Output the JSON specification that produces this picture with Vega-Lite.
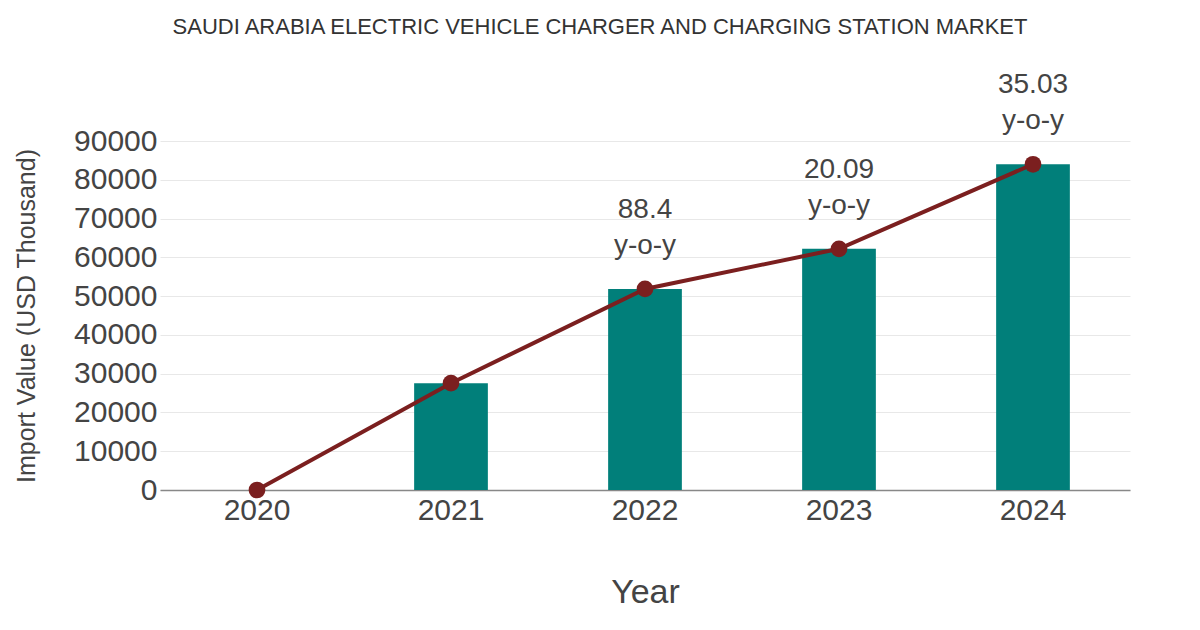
{
  "$schema": "https://vega.github.io/schema/vega-lite/v6.json",
  "width": 970,
  "height": 349,
  "autosize": "none",
  "padding": {"left": 160, "top": 141, "right": 70, "bottom": 140},
  "background": "white",
  "title": {
    "text": "SAUDI ARABIA ELECTRIC VEHICLE CHARGER AND CHARGING STATION MARKET",
    "font": "Liberation Sans",
    "fontSize": 22,
    "fontWeight": "normal",
    "color": "#333333",
    "dx": -45,
    "offset": 32
  },
  "config": {
    "view": {"stroke": null},
    "font": "Liberation Sans"
  },
  "data": {
    "values": [
      {"year": "2020", "value": 0, "label": ""},
      {"year": "2021", "value": 27550, "label": ""},
      {"year": "2022", "value": 51850, "label": "88.4\ny-o-y"},
      {"year": "2023", "value": 62200, "label": "20.09\ny-o-y"},
      {"year": "2024", "value": 84000, "label": "35.03\ny-o-y"}
    ]
  },
  "encoding": {
    "x": {
      "field": "year",
      "type": "ordinal",
      "title": "Year",
      "scale": {"paddingInner": 0.62, "paddingOuter": 0.31},
      "axis": {
        "labelAngle": 0,
        "labelFontSize": 30,
        "labelColor": "#444444",
        "labelPadding": 5,
        "ticks": false,
        "domainColor": "#888888",
        "domainWidth": 1.5,
        "titleFontSize": 34,
        "titleFontWeight": "normal",
        "titleColor": "#444444",
        "titlePadding": 50
      }
    },
    "y": {
      "field": "value",
      "type": "quantitative",
      "title": "Import Value (USD Thousand)",
      "scale": {"domain": [0, 90000], "nice": false},
      "axis": {
        "values": [0, 10000, 20000, 30000, 40000, 50000, 60000, 70000, 80000, 90000],
        "format": "d",
        "labelFontSize": 30,
        "labelColor": "#444444",
        "labelPadding": 3,
        "ticks": false,
        "domain": false,
        "gridColor": "#e8e8e8",
        "titleFontSize": 25,
        "titleFontWeight": "normal",
        "titleColor": "#444444",
        "titlePadding": 34
      }
    }
  },
  "layer": [
    {
      "mark": {"type": "bar", "color": "#017f7a"}
    },
    {
      "mark": {"type": "line", "color": "#7b1f1f", "strokeWidth": 4}
    },
    {
      "mark": {"type": "point", "filled": true, "color": "#7b1f1f", "opacity": 1, "size": 280}
    },
    {
      "mark": {
        "type": "text",
        "lineBreak": "\n",
        "baseline": "bottom",
        "dy": -65,
        "fontSize": 28,
        "lineHeight": 36,
        "color": "#444444"
      },
      "encoding": {"text": {"field": "label"}}
    }
  ]
}
